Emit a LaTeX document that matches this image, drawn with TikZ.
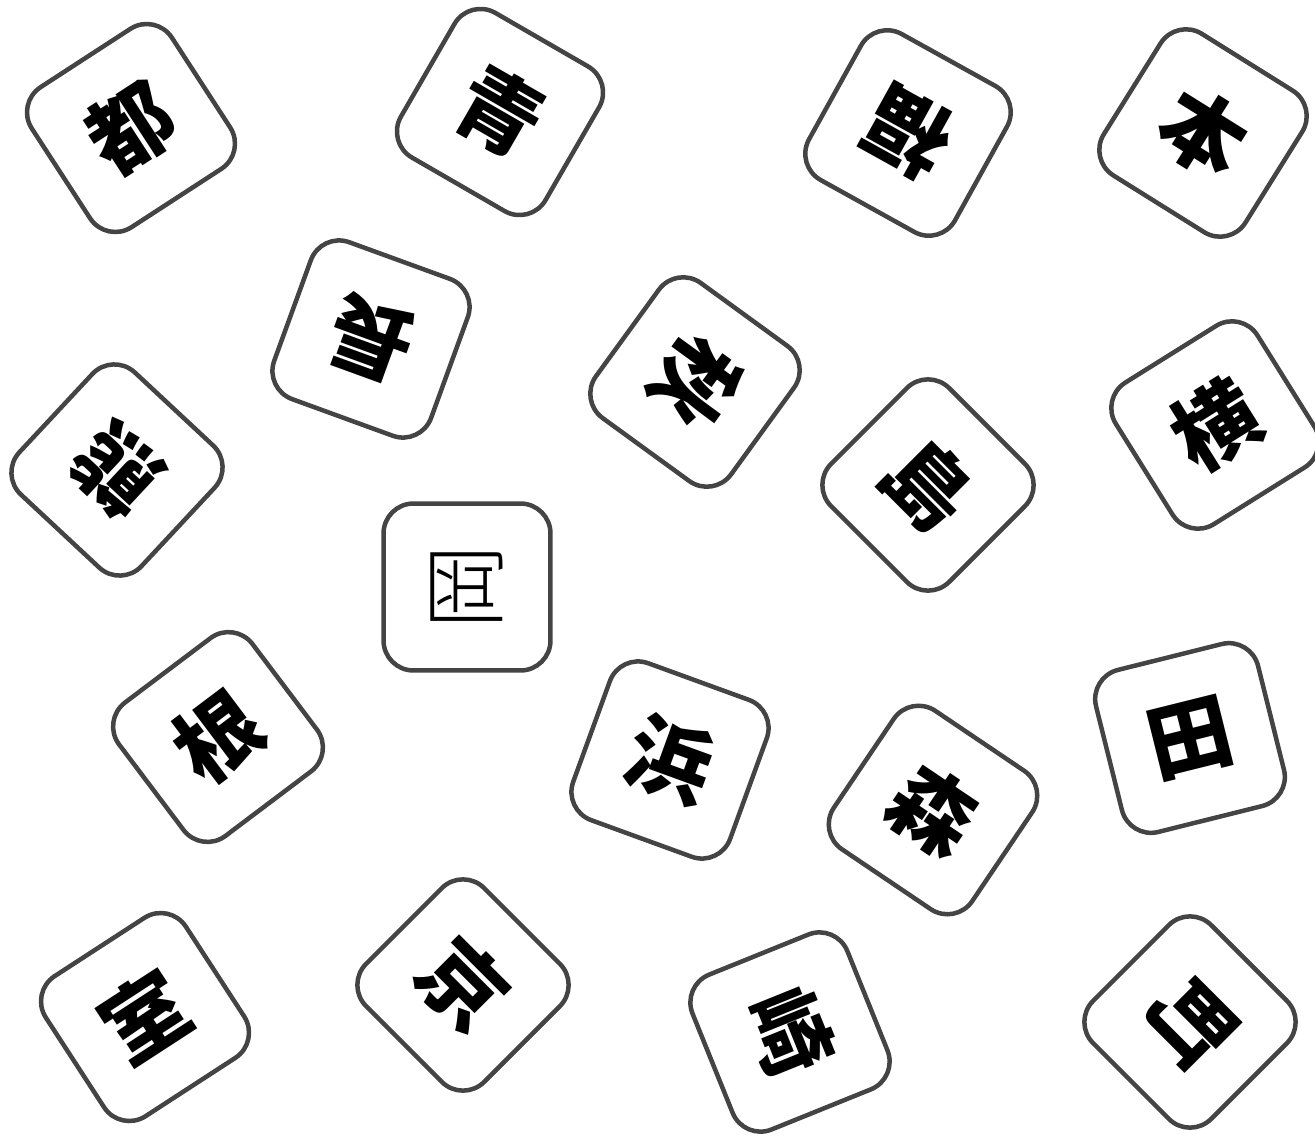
\documentclass[tikz,border=0pt]{standalone}
\usepackage{fontspec}
\newfontfamily\cjk{Noto Sans CJK JP}
\newfontfamily\cjkthin{Noto Sans CJK JP}[UprightFont=* Light]
\definecolor{tileborder}{HTML}{444444}
\begin{document}
\begin{tikzpicture}[x=0.02cm,y=-0.02cm,
  tile/.style={draw=tileborder, line width=0.09cm, fill=white, rounded corners=0.6cm,
    minimum size=3.34cm, inner sep=0pt, font=\cjk\bfseries\fontsize{48}{48}\selectfont},
  thintile/.style={tile, font=\cjkthin\fontsize{48}{48}\selectfont}]
\useasboundingbox (0,0) rectangle (1315,1135);
\node[tile, rotate=33]   (t1)  at (131,128)  {都};
\node[tile, rotate=-30]  (t2)  at (500,112)  {青};
\node[tile, rotate=151]  (t3)  at (908,133)  {福};
\node[tile, rotate=-32]  (t4)  at (1203,133) {本};
\node[tile, rotate=160]  (t5)  at (371,339)  {長};
\node[tile, rotate=-126] (t6)  at (695,382)  {秋};
\node[tile, rotate=-45]  (t7)  at (928,485)  {島};
\node[tile, rotate=32]   (t8)  at (1215,425) {横};
\node[tile, rotate=137]  (t9)  at (117,470)  {熊};
\node[thintile, rotate=90] (t10) at (467,587) {岡};
\node[tile, rotate=37]   (t11) at (218,737)  {根};
\node[tile, rotate=-20]  (t12) at (670,760)  {浜};
\node[tile, rotate=-34]  (t13) at (933,810)  {森};
\node[tile, rotate=14]   (t14) at (1190,738) {田};
\node[tile, rotate=33]   (t15) at (145,1017) {室};
\node[tile, rotate=-45]  (t16) at (463,985)  {京};
\node[tile, rotate=-68]  (t17) at (790,1032) {崎};
\node[tile, rotate=-135] (t18) at (1190,1022) {町};
\end{tikzpicture}
\end{document}
